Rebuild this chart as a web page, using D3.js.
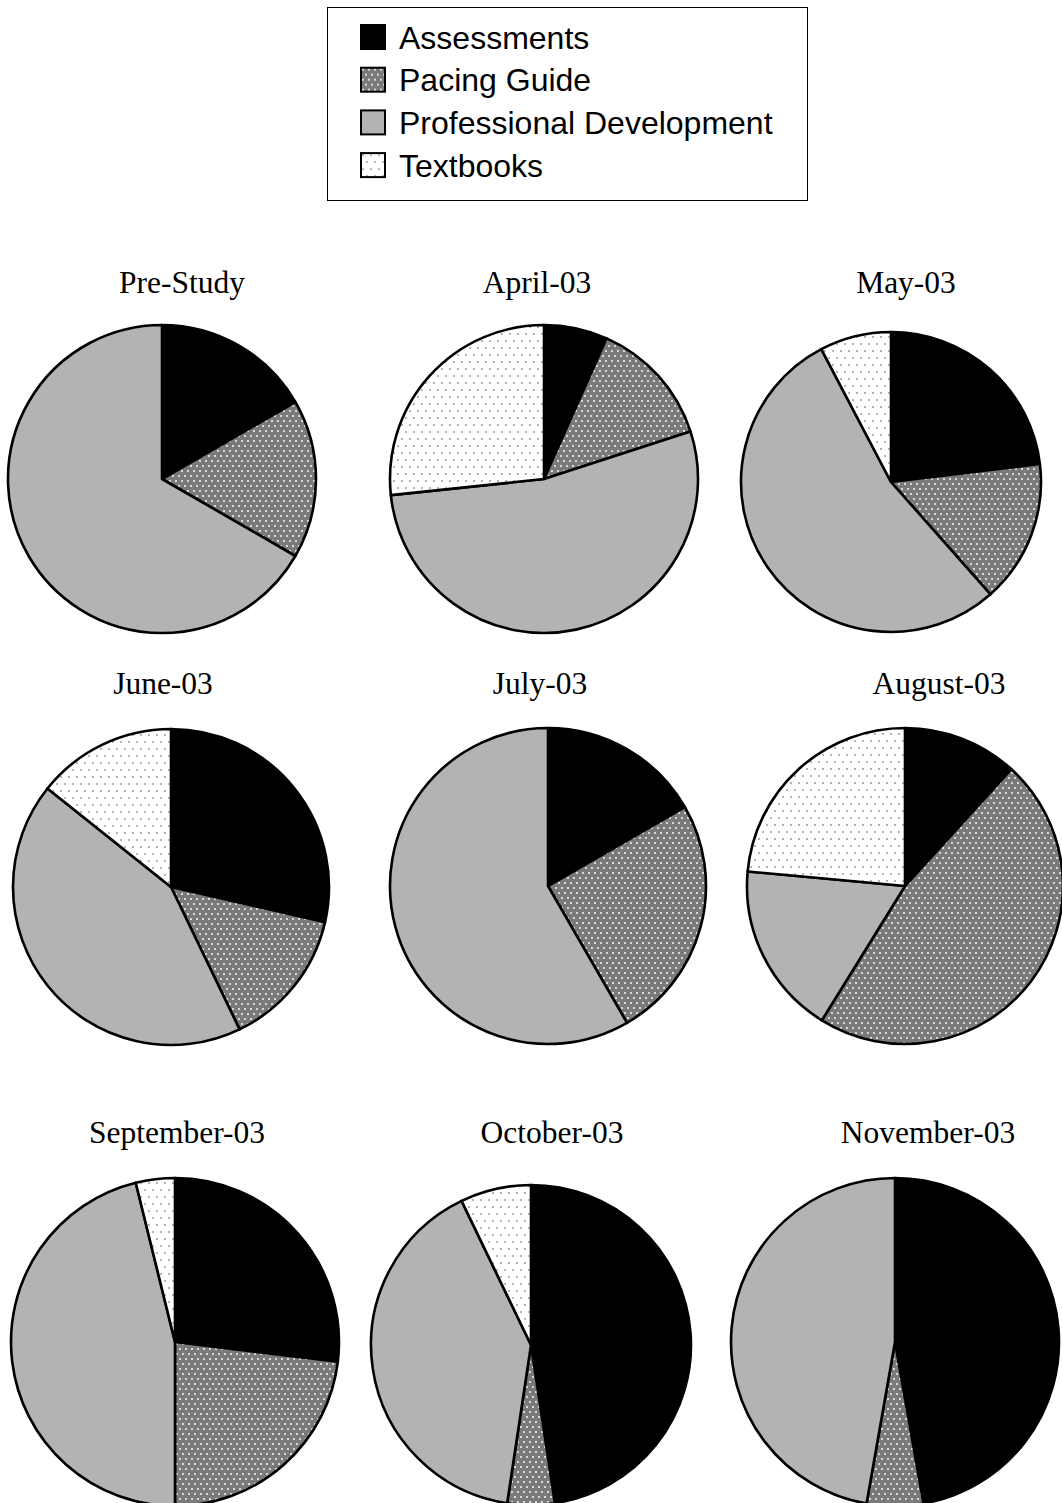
<!DOCTYPE html>
<html>
<head>
<meta charset="utf-8">
<script src="https://cdn.jsdelivr.net/npm/d3@7"></script>
<style>
  html, body { margin: 0; padding: 0; background: #fff; }
  svg { display: block; }
</style>
</head>
<body>
<svg id="chart" width="1062" height="1503"></svg>
<script>
// Categories, in clockwise order from 12 o'clock
const categories = ["Assessments", "Pacing Guide", "Professional Development", "Textbooks"];

// One pie per period
const periods = ["Pre-Study", "April-03", "May-03", "June-03", "July-03", "August-03",
                 "September-03", "October-03", "November-03"];

// Responses per category for each period (Assessments, Pacing Guide, Prof. Dev., Textbooks)
const preStudy  = [1, 1, 4, 0];
const april03   = [1, 2, 8, 4];
const may03     = [3, 2, 7, 1];
const june03    = [2, 1, 3, 1];
const july03    = [2, 3, 7, 0];
const august03  = [2, 8, 3, 4];
const sept03    = [7, 6, 12, 1];
const oct03     = [20, 2, 17, 3];
const nov03     = [17, 2, 17, 0];
const seriesValues = [preStudy, april03, may03, june03, july03, august03, sept03, oct03, nov03];

// Page layout for each pie: centre, radius and caption position
const layout = [
  { cx: 162, cy: 479, r: 154, tx: 182, ty: 293 },
  { cx: 544, cy: 479, r: 154, tx: 537, ty: 293 },
  { cx: 891, cy: 482, r: 150, tx: 906, ty: 293 },
  { cx: 171, cy: 887, r: 158, tx: 163, ty: 694 },
  { cx: 548, cy: 886, r: 158, tx: 540, ty: 694 },
  { cx: 905, cy: 886, r: 158, tx: 939, ty: 694 },
  { cx: 175, cy: 1342, r: 164, tx: 177, ty: 1143 },
  { cx: 531, cy: 1345, r: 160, tx: 552, ty: 1143 },
  { cx: 895, cy: 1342, r: 164, tx: 928, ty: 1143 }
];

const svg = d3.select("#chart");
const defs = svg.append("defs");

// Dotted fills
const pacing = defs.append("pattern")
  .attr("id", "pat-pacing").attr("patternUnits", "userSpaceOnUse")
  .attr("width", 6).attr("height", 10);
pacing.append("rect").attr("width", 6).attr("height", 10).attr("fill", "#7a7a7a");
pacing.append("rect").attr("x", 1).attr("y", 1).attr("width", 2).attr("height", 2).attr("fill", "#d8d8d8");
pacing.append("rect").attr("x", 4).attr("y", 6).attr("width", 2).attr("height", 2).attr("fill", "#d8d8d8");

const texts = defs.append("pattern")
  .attr("id", "pat-text").attr("patternUnits", "userSpaceOnUse")
  .attr("width", 8).attr("height", 14);
texts.append("rect").attr("width", 8).attr("height", 14).attr("fill", "#fff");
texts.append("rect").attr("x", 1).attr("y", 1).attr("width", 2).attr("height", 2).attr("fill", "#b4b4b4");
texts.append("rect").attr("x", 5).attr("y", 8).attr("width", 2).attr("height", 2).attr("fill", "#b4b4b4");

const fill = d3.scaleOrdinal()
  .domain(categories)
  .range(["#000000", "url(#pat-pacing)", "#b3b3b3", "url(#pat-text)"]);

// Legend
const legend = svg.append("g").attr("transform", "translate(327,7)");
legend.append("rect")
  .attr("x", 0.5).attr("y", 0.5).attr("width", 480).attr("height", 193)
  .attr("fill", "#fff").attr("stroke", "#000").attr("stroke-width", 1);
const rows = legend.selectAll("g.item").data(categories).join("g")
  .attr("class", "item")
  .attr("transform", (d, i) => `translate(34,${18 + i * 42.7})`);
rows.append("rect")
  .attr("width", 24).attr("height", 24)
  .attr("fill", d => fill(d)).attr("stroke", "#000").attr("stroke-width", 2);
rows.append("text")
  .attr("x", 38).attr("y", 23.5)
  .attr("font-family", "'Liberation Sans', Arial, sans-serif")
  .attr("font-size", 32)
  .attr("fill", "#000")
  .text(d => d);

// Pies
const pie = d3.pie().sort(null).value(d => d.value).startAngle(0).endAngle(2 * Math.PI);

periods.forEach((name, k) => {
  const L = layout[k];
  const data = categories.map((c, i) => ({ cat: c, value: seriesValues[k][i] }));
  const arc = d3.arc().innerRadius(0).outerRadius(L.r);
  const g = svg.append("g").attr("transform", `translate(${L.cx},${L.cy})`);
  g.selectAll("path")
    .data(pie(data).filter(d => d.data.value > 0))
    .join("path")
    .attr("d", arc)
    .attr("fill", d => fill(d.data.cat))
    .attr("stroke", "#000")
    .attr("stroke-width", 2.6)
    .attr("stroke-linejoin", "round");
  svg.append("text")
    .attr("x", L.tx).attr("y", L.ty)
    .attr("text-anchor", "middle")
    .attr("font-family", "'Liberation Serif', 'Times New Roman', serif")
    .attr("font-size", 31.5)
    .attr("fill", "#000")
    .text(name);
});
</script>
</body>
</html>
